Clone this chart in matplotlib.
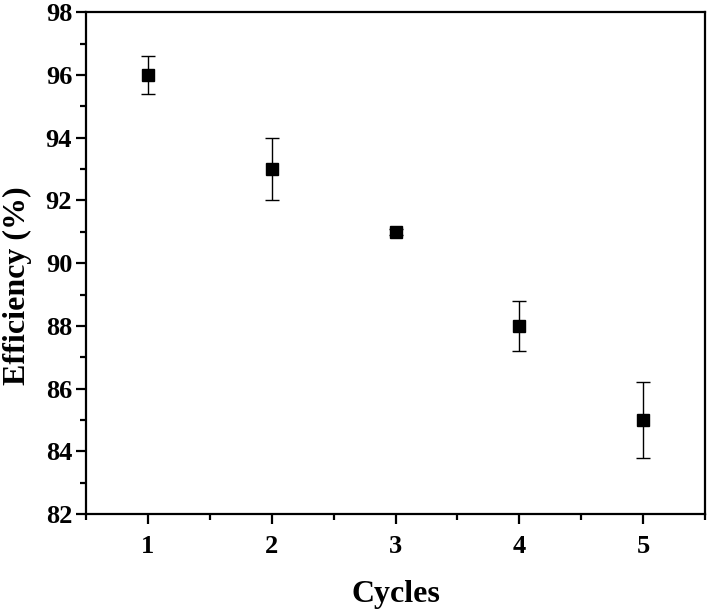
import matplotlib.pyplot as plt
from matplotlib.ticker import MultipleLocator

# --- data ---
cycles = [1, 2, 3, 4, 5]
efficiency = [96, 93, 91, 88, 85]
err = [0.6, 1.0, 0.1, 0.8, 1.2]

plt.rcParams['font.family'] = 'Liberation Serif'
plt.rcParams['font.weight'] = 'bold'

fig = plt.figure(figsize=(7.08, 6.10), dpi=100)
ax = fig.add_axes([0.1215, 0.157, 0.8743, 0.823])

ax.errorbar(cycles, efficiency, yerr=err, fmt='s', color='black',
            markersize=8.5, elinewidth=1, capsize=5, capthick=1)

ax.set_xlim(0.5, 5.5)
ax.set_ylim(82, 98)
ax.xaxis.set_major_locator(MultipleLocator(1))
ax.xaxis.set_minor_locator(MultipleLocator(0.5))
ax.yaxis.set_major_locator(MultipleLocator(2))
ax.yaxis.set_minor_locator(MultipleLocator(1))

for s in ax.spines.values():
    s.set_linewidth(1.6)
ax.tick_params(which='major', direction='out', length=7, width=1.6, labelsize=19, pad=3)
ax.tick_params(which='minor', direction='out', length=4, width=1.6)
ax.tick_params(axis='x', pad=8)

ax.set_xlabel('Cycles', fontsize=23, fontweight='bold', labelpad=16)
ax.set_ylabel('Efficiency (%)', fontsize=23, fontweight='bold')
ax.yaxis.set_label_coords(-0.088, 0.456)

fig.savefig('out.png', dpi=100)
